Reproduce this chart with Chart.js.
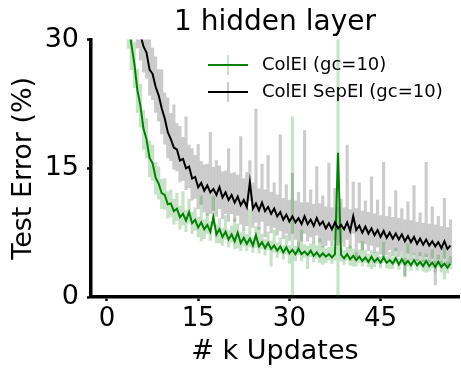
<!DOCTYPE html>
<html>
<head>
<meta charset="utf-8">
<script src="https://cdn.jsdelivr.net/npm/chart.js@4.4.1/dist/chart.umd.min.js"></script>
<style>
  body { margin: 0; background: #fff; }
  #wrap { width: 461px; height: 371px; }
</style>
</head>
<body>
<div id="wrap"><canvas id="grafica" width="461" height="371"></canvas></div>
<script>
// k updates (eje x)
const xs = [3,3.5,4,4.5,5,5.5,6,6.5,7,7.5,8,8.5,9,9.5,10,10.5,11,11.5,12,12.5,13,13.5,14,14.5,15,15.5,16,16.5,17,17.5,18,18.5,19,19.5,20,20.5,21,21.5,22,22.5,23,23.5,24,24.5,25,25.5,26,26.5,27,27.5,28,28.5,29,29.5,30,30.5,31,31.5,32,32.5,33,33.5,34,34.5,35,35.5,36,36.5,37,37.5,38,38.5,39,39.5,40,40.5,41,41.5,42,42.5,43,43.5,44,44.5,45,45.5,46,46.5,47,47.5,48,48.5,49,49.5,50,50.5,51,51.5,52,52.5,53,53.5,54,54.5,55,55.5,56,56.5];

// ColEI (gc=10) - media
const colEI = [
  36,32,29.5,27.2,24.1,22.3,19.6,18.4,16.2,15.6,
  13.9,13.2,12.1,11.9,10.8,10.9,10.0,10.3,9.3,9.7,
  8.9,9.9,8.6,9.0,8.1,8.7,7.9,8.4,7.6,9.3,
  7.3,7.9,7.0,7.6,6.7,7.3,6.5,7.5,6.3,6.9,
  6.2,6.8,6.0,7.2,5.9,6.4,5.7,6.3,5.6,6.0,
  5.4,5.9,5.2,5.8,5.1,5.5,5.0,5.6,5.0,5.3,
  4.9,5.4,4.8,5.2,4.7,5.1,4.7,5.0,4.6,5.0,
  16.8,4.9,4.5,5.0,4.4,4.8,4.3,4.7,4.2,4.6,
  4.1,4.7,4.1,4.5,4.0,4.6,4.0,4.3,3.9,4.5,
  3.8,4.4,3.8,4.2,3.7,4.3,3.7,4.1,3.6,4.2,
  3.6,4.0,3.5,4.1,3.5,3.9,3.4,3.9
];
const colEIUp = [
  3,3,3,2.5,2.5,2.5,2.2,2.4,2,2.1,
  1.8,2,1.6,1.9,1.5,1.6,1.4,1.8,1.3,2.6,
  1.2,1.5,1.3,1.4,1.2,3.1,1.1,1.3,1.2,2.4,
  1.1,1.2,1.0,1.9,1.1,1.0,2.6,1.0,1.2,0.9,
  1.1,3.4,0.9,1.0,2.2,0.9,1.0,1.3,0.9,1.8,
  0.9,1.0,0.8,1.4,0.9,15.5,0.9,0.8,2.8,0.8,
  1.0,0.8,1.5,0.8,2.1,0.8,0.9,0.8,1.2,0.8,
  18,0.8,0.9,0.8,1.6,0.8,0.9,0.8,2.3,0.8,
  0.9,0.7,1.1,0.8,0.7,1.8,0.7,0.9,0.7,1.2,
  0.7,0.8,0.7,2.0,0.7,0.8,0.7,1.1,0.7,0.8,
  0.7,1.5,0.7,0.8,0.7,1.9,0.7,0.8
];
const colEIDown = [
  3,3,3,2.8,2.6,2.5,2.4,2.2,2.2,2,
  1.9,1.8,1.8,1.7,1.6,1.5,1.5,1.4,1.4,1.3,
  1.3,1.2,1.2,1.2,1.1,2.2,1.1,1.0,1.0,1.0,
  1.0,1.6,1.0,0.9,0.9,0.9,0.9,1.8,0.9,0.9,
  0.8,0.9,0.8,1.4,0.8,0.8,0.8,0.8,2.0,0.8,
  0.8,0.8,0.8,0.8,1.2,8,0.8,0.7,0.8,0.7,
  1.6,0.7,0.7,0.7,0.7,1.3,0.7,0.7,0.7,0.7,
  20,0.7,0.7,0.7,0.7,1.2,0.7,0.7,0.6,0.6,
  0.6,1.4,0.6,0.6,0.6,0.6,0.6,1.0,0.6,0.6,
  0.6,0.6,1.5,0.6,0.6,0.6,0.6,0.6,0.6,1.3,
  0.6,0.6,0.6,0.6,0.6,1.8,0.6,0.6
];

// ColEI SepEI (gc=10) - media
const sepEI = [
  45,40,37,34.5,32,30.6,29.2,28.5,26.5,26.0,
  24.5,23.5,22.0,20.8,19.2,18.4,17.4,17.2,15.9,16.1,
  15.0,15.2,13.8,14.0,12.8,13.3,12.4,13.0,12.2,12.6,
  11.9,12.8,11.6,12.2,11.3,11.9,11.0,11.7,10.7,11.3,
  10.5,13.4,10.3,10.9,10.1,11.0,10.0,10.5,9.7,10.3,
  9.4,9.9,9.0,9.6,8.8,9.4,8.7,9.2,8.5,9.4,
  8.5,9.0,8.3,9.2,8.4,8.8,8.0,8.6,7.9,8.7,
  8.0,8.4,7.9,8.7,7.7,9.4,7.8,8.3,7.5,8.2,
  7.4,8.0,7.2,7.8,7.0,7.7,6.9,7.5,6.8,7.4,
  6.7,7.3,6.5,7.1,6.4,7.0,6.2,6.8,6.1,6.7,
  6.0,6.5,5.9,6.4,5.7,6.5,5.6,6.0
];
const sepEIUp = [
  3,3,3,3,3,3,3.5,3,4,3,
  3.5,3,4.5,3,4,3,5,3,4,2.5,
  6,2.5,3.5,2.5,5,2.5,3,2.5,7,2.5,
  4,2.5,3,2.5,6,2.5,3.5,2.5,8,2.5,
  4,2.5,3,11,2.5,4.5,2.5,6,2.5,3,
  2.5,9,2.5,3.5,2.5,5,2.5,3,2.5,10,
  2.5,3.5,2.5,6,2.5,3,2.5,7,2.5,4,
  2.5,3,2.5,9,2.5,4,2.5,5,2.5,3,
  2.5,6,2.5,3.5,2.5,8,2.5,3,2.5,5,
  2.5,3,2.5,4,2.5,6,2.5,3,2.5,9,
  2.5,4,2.5,3,2.5,5,2.5,3
];
const sepEIDown = [
  3,3,3,3,3,3,3,3,3,3,
  3,3,3,3,3,2.5,2.5,2.5,2.5,2.5,
  2.5,2.5,2.5,2.5,2.5,2.5,2.5,3.5,2.5,2.5,
  2.5,2.5,2.5,2.5,2.5,2.2,2.2,2.2,2.2,3.5,
  2.2,2.2,2.2,2.2,2.2,2.2,3,2.2,2.2,2.2,
  2.2,2.2,2.2,2.2,2.2,2,2,3.5,2,2,
  2,2,2,2,2,3,2,2,2,2,
  2,2,2,2,2,2,3.5,2,2,2,
  2,2,2,2,2,3,2,2,2,2,
  2,2,4,2,2,2,2,2,2,2,
  2,2,4.5,2,2,2,2,2
];

const xTicks = [0, 15, 30, 45];
const yTicks = [0, 15, 30];
const nombres = ['ColEI (gc=10)', 'ColEI SepEI (gc=10)'];

const VERDE = '#008000';
const VERDE_CLARO = 'rgba(0,128,0,0.22)';
const GRIS_CLARO = 'rgba(0,0,0,0.2)';
const FUENTE = "'DejaVu Sans', sans-serif";

const linea = (ys) => xs.map((x, i) => ({ x: x, y: ys[i] }));
const barras = (ys, up, down) => xs.map((x, i) => ({ x: x, y: [ys[i] - down[i], ys[i] + up[i]] }));

// leyenda dentro del área, estilo errorbar
const leyenda = {
  id: 'leyenda',
  afterDraw(chart) {
    const ctx = chart.ctx;
    const filas = [
      { txt: nombres[0], c: VERDE, cc: VERDE_CLARO, y: 65 },
      { txt: nombres[1], c: '#000', cc: GRIS_CLARO, y: 92 }
    ];
    ctx.save();
    filas.forEach(f => {
      ctx.strokeStyle = f.cc;
      ctx.lineWidth = 2;
      ctx.beginPath(); ctx.moveTo(228, f.y - 10); ctx.lineTo(228, f.y + 10); ctx.stroke();
      ctx.strokeStyle = f.c;
      ctx.lineWidth = 2;
      ctx.beginPath(); ctx.moveTo(208, f.y); ctx.lineTo(248, f.y); ctx.stroke();
      ctx.fillStyle = '#000';
      ctx.font = '18px ' + FUENTE;
      ctx.textBaseline = 'middle';
      ctx.fillText(f.txt, 262, f.y);
    });
    ctx.restore();
  }
};

const ejeGrid = { drawOnChartArea: false, drawTicks: true, offset: false, tickLength: 4, tickWidth: 2.5, tickColor: '#000' };

new Chart(document.getElementById('grafica'), {
  type: 'line',
  data: {
    datasets: [
      { type: 'bar', data: barras(sepEI, sepEIUp, sepEIDown), backgroundColor: GRIS_CLARO, barThickness: 2.5, grouped: false, order: 4 },
      { type: 'bar', data: barras(colEI, colEIUp, colEIDown), backgroundColor: VERDE_CLARO, barThickness: 2.5, grouped: false, order: 3 },
      { type: 'line', label: nombres[0], data: linea(colEI), borderColor: VERDE, borderWidth: 2, pointRadius: 0, tension: 0, order: 2 },
      { type: 'line', label: nombres[1], data: linea(sepEI), borderColor: '#000', borderWidth: 2, pointRadius: 0, tension: 0, order: 1 }
    ]
  },
  options: {
    responsive: false,
    animation: false,
    devicePixelRatio: 1,
    layout: { padding: { right: 2 } },
    plugins: {
      legend: { display: false },
      tooltip: { enabled: false },
      title: {
        display: true,
        text: '1 hidden layer',
        color: '#000',
        fullSize: false,
        font: { family: FUENTE, size: 28, weight: 'normal' },
        padding: { top: 6, bottom: 0 }
      }
    },
    scales: {
      x: {
        type: 'linear',
        min: -2.63,
        max: 57.9,
        offset: false,
        afterFit: s => { s.height = 74; },
        afterBuildTicks: s => { s.ticks = xTicks.map(v => ({ value: v })); },
        grid: ejeGrid,
        border: { display: true, color: '#000', width: 3.5 },
        ticks: { color: '#000', padding: 3, maxRotation: 0, font: { family: FUENTE, size: 26 } },
        title: { display: true, text: '# k Updates', color: '#000', padding: { top: 0, bottom: 3 }, font: { family: FUENTE, size: 27 } }
      },
      y: {
        min: 0,
        max: 30,
        afterFit: s => { s.width = 91; },
        afterBuildTicks: s => { s.ticks = yTicks.map(v => ({ value: v })); },
        grid: ejeGrid,
        border: { display: true, color: '#000', width: 3.5 },
        ticks: { color: '#000', padding: 8, font: { family: FUENTE, size: 27 } },
        title: { display: true, text: 'Test Error (%)', color: '#000', padding: { top: 8, bottom: 0 }, font: { family: FUENTE, size: 27 } }
      }
    }
  },
  plugins: [leyenda]
});
</script>
</body>
</html>
